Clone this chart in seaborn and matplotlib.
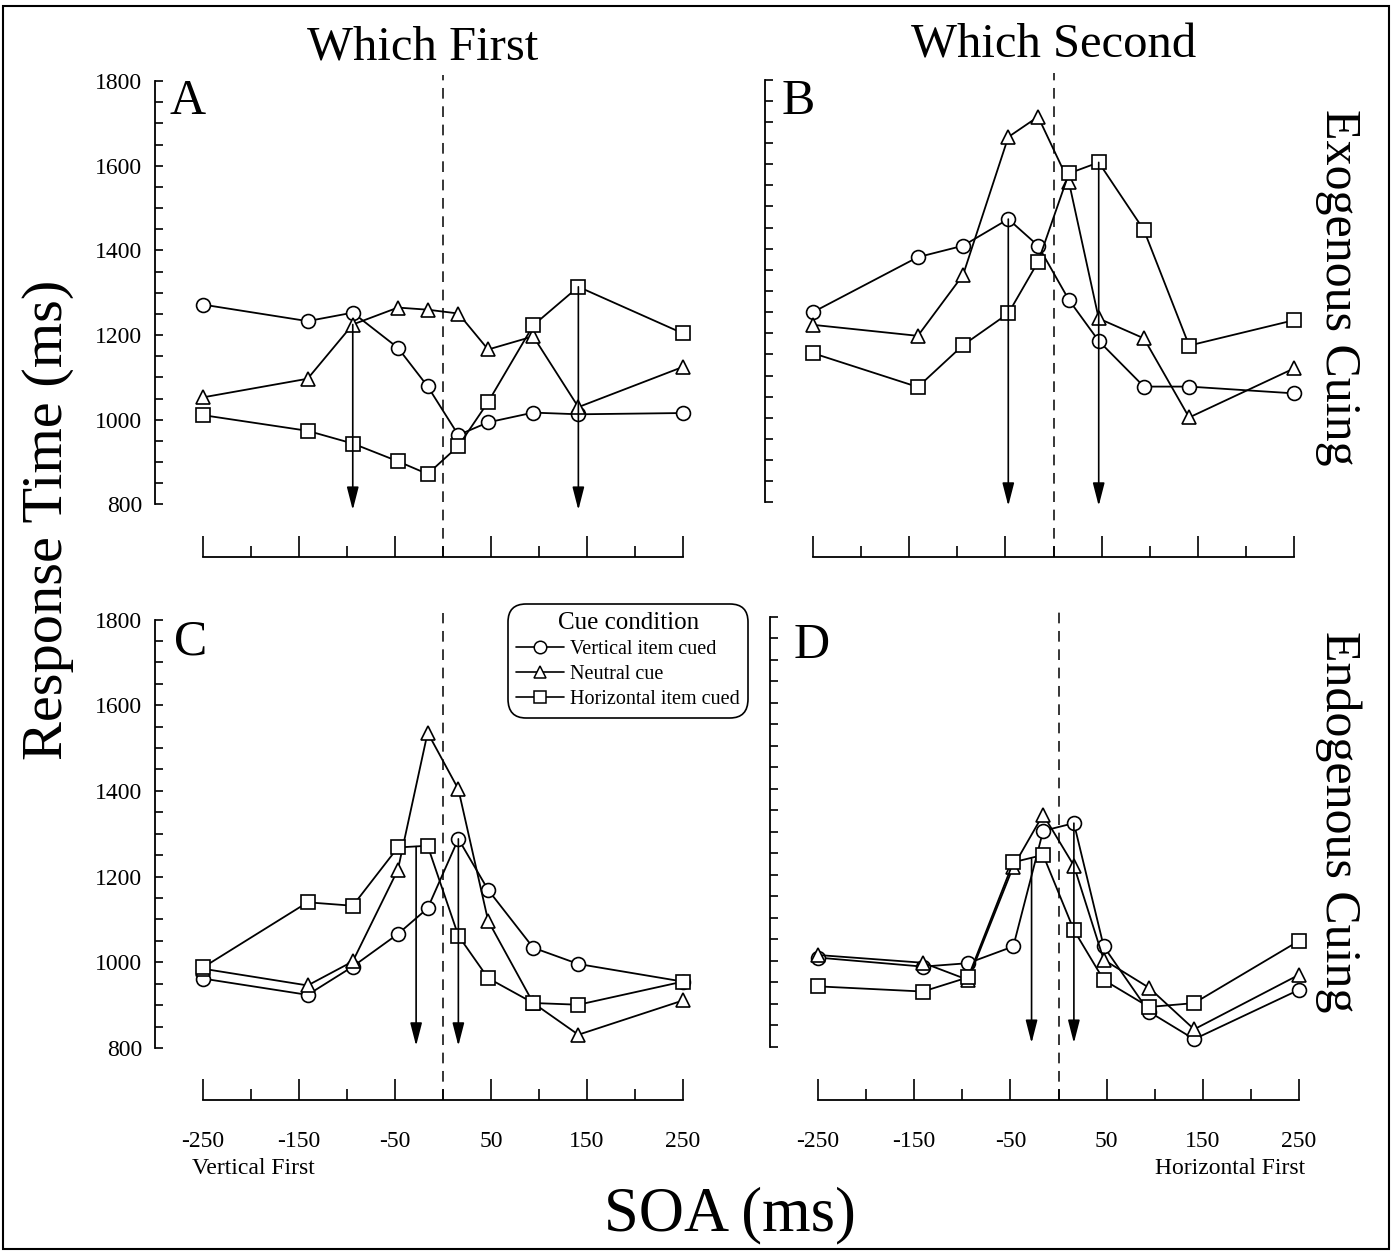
import pandas as pd
import matplotlib
matplotlib.use("Agg")
import matplotlib.pyplot as plt
from matplotlib.lines import Line2D
from matplotlib.patches import Rectangle
import seaborn as sns

# SOA values (ms) shared by all panels
soa = [-250, -141, -94, -47, -16, 16, 47, 94, 141, 250]
cues = ["Vertical item cued", "Neutral cue", "Horizontal item cued"]

# A: which first, exogenous cuing
a_vert = [1272, 1233, 1253, 1170, 1079, 964, 994, 1017, 1013, 1016]
a_neut = [1053, 1097, 1225, 1265, 1260, 1251, 1166, 1197, 1030, 1125]
a_horz = [1011, 974, 944, 902, 872, 938, 1042, 1223, 1314, 1204]
# B: which second, exogenous cuing
b_vert = [1250, 1380, 1407, 1470, 1407, 1279, 1182, 1074, 1074, 1058]
b_neut = [1220, 1194, 1338, 1664, 1712, 1558, 1235, 1188, 1001, 1117]
b_horz = [1153, 1073, 1172, 1247, 1369, 1578, 1604, 1444, 1171, 1231]
# C: which first, endogenous cuing
c_vert = [962, 924, 990, 1066, 1126, 1288, 1169, 1034, 996, 955]
c_neut = [985, 946, 1002, 1216, 1536, 1404, 1097, 905, 831, 911]
c_horz = [988, 1140, 1132, 1268, 1272, 1062, 963, 905, 901, 955]
# D: which second, endogenous cuing
d_vert = [1007, 986, 994, 1033, 1302, 1320, 1033, 881, 817, 932]
d_neut = [1013, 995, 955, 1219, 1340, 1221, 1002, 937, 840, 967]
d_horz = [940, 928, 961, 1229, 1246, 1071, 955, 892, 901, 1046]

# arrows: SOA position, start RT, tip RT
a_arrow_x, a_arrow_from, a_arrow_tip = [-94, 141], [1225, 1314], 787
b_arrow_x, b_arrow_from, b_arrow_tip = [-47, 47], [1470, 1604], 792
c_arrow_x, c_arrow_from, c_arrow_tip = [-28, 16], [1270, 1288], 805
d_arrow_x, d_arrow_from, d_arrow_tip = [-28, 16], [1237, 1320], 808

panels = {
    "A": (a_vert, a_neut, a_horz, a_arrow_x, a_arrow_from, a_arrow_tip),
    "B": (b_vert, b_neut, b_horz, b_arrow_x, b_arrow_from, b_arrow_tip),
    "C": (c_vert, c_neut, c_horz, c_arrow_x, c_arrow_from, c_arrow_tip),
    "D": (d_vert, d_neut, d_horz, d_arrow_x, d_arrow_from, d_arrow_tip),
}

# pixel layout: x(-250), x(250), y(1800), y(800), x-axis line
W, H = 1395, 1253
layout = {
    "A": (203, 683, 81, 504.5, 557),
    "B": (813, 1294, 79.5, 502.5, 557),
    "C": (203, 683, 619.5, 1048, 1100),
    "D": (818, 1299, 617, 1046.5, 1100),
}
XMIN, XMAX, YTOP = -300, 280, 1815

sns.set_style("ticks")
plt.rcParams["font.family"] = ["Liberation Serif", "DejaVu Serif"]
plt.rcParams["axes.unicode_minus"] = False
for key in ("text.color", "axes.labelcolor", "xtick.color", "ytick.color", "axes.edgecolor"):
    plt.rcParams[key] = "black"

markers = {"Vertical item cued": "o", "Neutral cue": "^", "Horizontal item cued": "s"}

fig = plt.figure(figsize=(W / 100, H / 100), dpi=100)


def place(ax, x0, x1, y_hi, y_lo, y_axis):
    sx = (x1 - x0) / 500
    sy = (y_lo - y_hi) / 1000
    left = x0 + (XMIN + 250) * sx
    right = x0 + (XMAX + 250) * sx
    top = y_hi - (YTOP - 1800) * sy
    ybot = 800 - (y_axis - y_lo) / sy
    ax.set_position([left / W, 1 - y_axis / H, (right - left) / W, (y_axis - top) / H])
    ax.set_xlim(XMIN, XMAX)
    ax.set_ylim(ybot, YTOP)


for name, (vert, neut, horz, arr_x, arr_from, arr_tip) in panels.items():
    ax = fig.add_axes([0, 0, 1, 1])
    df = pd.DataFrame({
        "SOA": soa * 3,
        "RT": vert + neut + horz,
        "cue": [cues[0]] * len(soa) + [cues[1]] * len(soa) + [cues[2]] * len(soa),
    })
    sns.lineplot(data=df, x="SOA", y="RT", style="cue", style_order=cues,
                 markers=markers, dashes=False, color="black", linewidth=1.3,
                 markersize=10, markerfacecolor="white", markeredgecolor="black",
                 markeredgewidth=1.2, legend=False, errorbar=None, ax=ax)
    ax.axvline(0, color="black", lw=1.1, ls=(0, (7, 5)), zorder=0)
    for x, y0 in zip(arr_x, arr_from):
        ax.annotate("", xy=(x, arr_tip), xytext=(x, y0),
                    arrowprops=dict(arrowstyle="-|>,head_length=0.7,head_width=0.18",
                                    mutation_scale=20, color="black", lw=1.2,
                                    shrinkA=0, shrinkB=0))
    place(ax, *layout[name])

    sns.despine(ax=ax)
    ax.spines["left"].set_bounds(800, 1800)
    ax.spines["bottom"].set_bounds(-250, 250)
    for s in ("left", "bottom"):
        ax.spines[s].set_linewidth(1.3)
    ax.set_yticks(range(800, 1801, 200))
    ax.set_yticks(range(800, 1801, 50), minor=True)
    ax.set_xticks([-250, -150, -50, 50, 150, 250])
    ax.set_xticks([-200, -100, 0, 100, 200], minor=True)
    ax.tick_params(axis="y", which="both", direction="in", length=6, width=1.2,
                   labelsize=17, pad=9, labelleft=name in ("A", "C"))
    ax.tick_params(axis="x", which="major", direction="in", length=15, width=1.2,
                   labelsize=17, pad=22, labelbottom=name in ("C", "D"))
    ax.tick_params(axis="x", which="minor", direction="in", length=8, width=1.2)
    ax.set_xlabel("")
    ax.set_ylabel("")

    if name == "C":
        handles = [Line2D([], [], color="black", lw=1.2, marker=markers[c], markersize=9,
                          markerfacecolor="white", markeredgecolor="black",
                          markeredgewidth=1.1) for c in cues]
        leg = ax.legend(handles, cues, title="Cue condition", loc="upper left",
                        bbox_to_anchor=(508 / W, 1 - 604 / H),
                        bbox_transform=fig.transFigure, fontsize=14.5,
                        title_fontsize=18, frameon=True, fancybox=True,
                        framealpha=1, edgecolor="black", handlelength=2.4,
                        handletextpad=0.3, labelspacing=0.3, borderpad=0.4,
                        borderaxespad=0)
        leg.get_frame().set_linewidth(1.2)
        leg.get_frame().set_boxstyle("round,pad=0,rounding_size=0.9")

# panel letters
for name, (px, py) in {"A": (170, 102), "B": (782, 102), "C": (174, 642), "D": (794, 646)}.items():
    fig.text(px / W, 1 - py / H, name, fontsize=36, ha="left", va="center")

fig.text(423 / W, 1 - 48 / H, "Which First", fontsize=35, ha="center", va="center")
fig.text(1054 / W, 1 - 46 / H, "Which Second", fontsize=35, ha="center", va="center")
fig.text(48 / W, 1 - 520 / H, "Response Time (ms)", fontsize=42, rotation=90,
         ha="center", va="center")
fig.text(730 / W, 1 - 1215 / H, "SOA (ms)", fontsize=45, ha="center", va="center")
fig.text(1338 / W, 1 - 287 / H, "Exogenous Cuing", fontsize=36, rotation=270,
         ha="center", va="center")
fig.text(1338 / W, 1 - 822 / H, "Endogenous Cuing", fontsize=36, rotation=270,
         ha="center", va="center")
fig.text(192 / W, 1 - 1168 / H, "Vertical First", fontsize=17, ha="left", va="center")
fig.text(1305 / W, 1 - 1168 / H, "Horizontal First", fontsize=17, ha="right", va="center")

fig.add_artist(Rectangle((3 / W, 4 / H), 1386 / W, 1243 / H, transform=fig.transFigure,
                         fill=False, edgecolor="black", lw=1.5))

fig.savefig("out.png", dpi=100)
